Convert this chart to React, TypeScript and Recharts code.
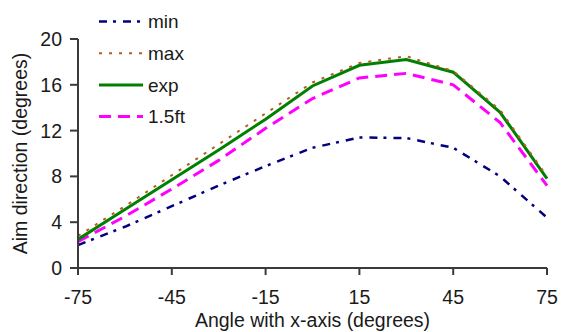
import React from 'react';
import { LineChart, Line, XAxis, YAxis } from 'recharts';

const angles = [-75, -60, -45, -30, -15, 0, 15, 30, 45, 60, 75];
const minVals = [2.0, 3.6, 5.4, 7.2, 8.9, 10.5, 11.4, 11.35, 10.5, 8.0, 4.4];
const maxVals = [2.8, 5.4, 8.1, 10.8, 13.5, 16.2, 17.9, 18.5, 17.2, 13.8, 8.0];
const expVals = [2.5, 5.1, 7.7, 10.3, 13.0, 15.9, 17.7, 18.2, 17.1, 13.6, 7.8];
const ftVals = [2.3, 4.5, 6.9, 9.4, 12.2, 14.8, 16.6, 17.0, 16.0, 12.7, 7.2];

const xTicks = [-75, -45, -15, 15, 45, 75];
const yTicks = [0, 4, 8, 12, 16, 20];

const data = angles.map((a, i) => ({
  angle: a,
  min: minVals[i],
  max: maxVals[i],
  exp: expVals[i],
  ft: ftVals[i],
}));

const SERIES = [
  { key: 'min', name: 'min', color: '#000080', dash: '8 6 3 7', width: 2.5 },
  { key: 'max', name: 'max', color: '#b65a1e', dash: '3 7', width: 2 },
  { key: 'exp', name: 'exp', color: '#008000', dash: undefined, width: 3 },
  { key: 'ft', name: '1.5ft', color: '#ff00ff', dash: '12 7', width: 3 },
];

const FONT = 'Arial, "Liberation Sans", sans-serif';
const TEXT = '#1a1a1a';
const AXIS = '#3a3a3a';

// legend drawn as an overlay so it doesn't eat plot space
const ChartLegend = () => (
  <svg width={130} height={135} style={{ position: 'absolute', left: 95, top: 0 }}>
    {SERIES.map((s, i) => {
      const y = 21.5 + i * 31.7;
      return (
        <g key={s.key}>
          <line x1={4} x2={48} y1={y} y2={y} stroke={s.color} strokeWidth={s.width} strokeDasharray={s.dash} />
          <text x={53} y={y} dy="0.35em" fontSize={19} fontFamily={FONT} fill={TEXT}>
            {s.name}
          </text>
        </g>
      );
    })}
  </svg>
);

const XTitle = (props: any) => {
  const { viewBox } = props;
  return (
    <text x={viewBox.x + viewBox.width / 2} y={327} textAnchor="middle" fontSize={19.5} fontFamily={FONT} fill={TEXT}>
      Angle with x-axis (degrees)
    </text>
  );
};

const YTitle = (props: any) => {
  const { viewBox } = props;
  const cy = viewBox.y + viewBox.height / 2;
  return (
    <text
      x={20}
      y={cy}
      dy="0.35em"
      transform={`rotate(-90 20 ${cy})`}
      textAnchor="middle"
      fontSize={19.5}
      fontFamily={FONT}
      fill={TEXT}
    >
      Aim direction (degrees)
    </text>
  );
};

export default function App() {
  return (
    <div style={{ position: 'absolute', left: 0, top: 0, width: 563, height: 332, background: '#fff' }}>
      <LineChart width={563} height={332} data={data} margin={{ top: 39, right: 16, bottom: 0, left: 0 }}>
        <XAxis
          dataKey="angle"
          type="number"
          domain={[-75, 75]}
          ticks={xTicks}
          tickSize={7}
          tickMargin={15}
          height={64}
          stroke={AXIS}
          strokeWidth={2}
          tick={{ fontSize: 19.5, fontFamily: FONT, fill: TEXT }}
          label={<XTitle />}
        />
        <YAxis
          type="number"
          domain={[0, 20]}
          ticks={yTicks}
          tickSize={8}
          tickMargin={8}
          width={78}
          stroke={AXIS}
          strokeWidth={2}
          tick={{ fontSize: 19.5, fontFamily: FONT, fill: TEXT }}
          label={<YTitle />}
        />
        {[SERIES[0], SERIES[3], SERIES[2], SERIES[1]].map((s) => (
          <Line
            key={s.key}
            dataKey={s.key}
            name={s.name}
            type="linear"
            stroke={s.color}
            strokeWidth={s.width}
            strokeDasharray={s.dash}
            dot={false}
            activeDot={false}
            isAnimationActive={false}
          />
        ))}
      </LineChart>
      <ChartLegend />
    </div>
  );
}
